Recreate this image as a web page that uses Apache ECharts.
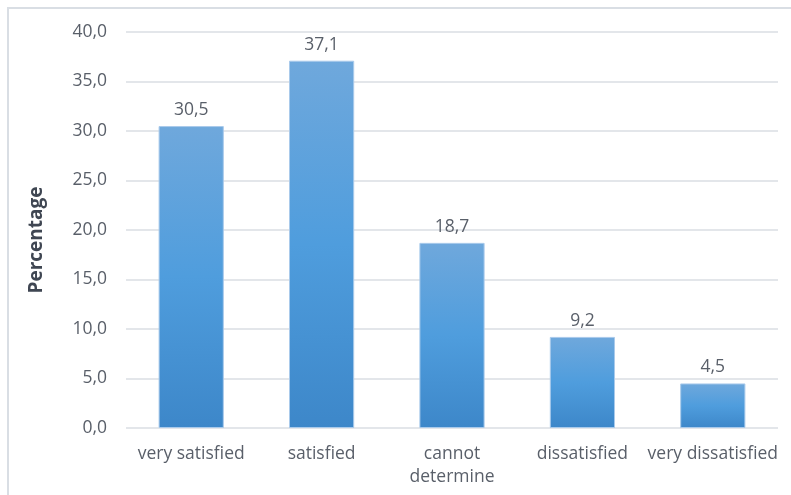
<!DOCTYPE html>
<html>
<head>
<meta charset="utf-8">
<script src="https://cdn.jsdelivr.net/npm/echarts@6/dist/echarts.min.js"></script>
<style>
  html, body { margin: 0; padding: 0; background: #fff; }
  #chart { width: 791px; height: 495px; }
</style>
</head>
<body>
<div id="chart"></div>
<script>
const categories = ['very satisfied', 'satisfied', 'cannot\ndetermine', 'dissatisfied', 'very dissatisfied'];
const percentages = [30.5, 37.1, 18.7, 9.2, 4.5];

const FONT = 'Open Sans';
const TEXT_COLOR = '#595F69';

const fmt = (v) => Number(v).toFixed(1).replace('.', ',');

const chart = echarts.init(document.getElementById('chart'));
chart.setOption({
  animation: false,
  backgroundColor: '#fff',
  textStyle: { fontFamily: FONT },
  graphic: [
    {
      type: 'rect',
      shape: { x: 8, y: 8, width: 800, height: 500 },
      style: { fill: 'none', stroke: '#D9DEE4', lineWidth: 2 },
      silent: true,
    },
  ],
  grid: { left: 126, right: 13, top: 32, bottom: 67 },
  xAxis: {
    type: 'category',
    data: categories,
    axisLine: { show: false },
    axisTick: { show: false },
    axisLabel: {
      color: TEXT_COLOR,
      fontSize: 17.5,
      fontFamily: FONT,
      margin: 15,
      lineHeight: 23,
      interval: 0,
    },
  },
  yAxis: {
    type: 'value',
    min: 0,
    max: 40,
    interval: 5,
    name: 'Percentage',
    nameLocation: 'middle',
    nameGap: 80,
    nameTextStyle: {
      color: '#3F4652',
      fontSize: 19,
      fontWeight: 'bold',
      fontFamily: FONT,
      padding: [0, 20, 0, 0],
    },
    axisLabel: {
      color: TEXT_COLOR,
      fontSize: 17.5,
      fontFamily: FONT,
      margin: 19,
      formatter: fmt,
    },
    splitLine: { lineStyle: { color: '#E3E6EA', width: 2 } },
  },
  series: [
    {
      type: 'bar',
      data: percentages,
      barWidth: '50%',
      itemStyle: {
        borderColor: '#A9CAEB',
        borderWidth: 1,
        color: new echarts.graphic.LinearGradient(0, 0, 0, 1, [
          { offset: 0, color: '#6FA8DC' },
          { offset: 0.5, color: '#4F9DDD' },
          { offset: 1, color: '#3D87C9' },
        ]),
      },
      label: {
        show: true,
        position: 'top',
        distance: 7,
        color: TEXT_COLOR,
        fontSize: 17.5,
        fontFamily: FONT,
        formatter: (p) => fmt(p.value),
      },
    },
  ],
});
</script>
</body>
</html>
